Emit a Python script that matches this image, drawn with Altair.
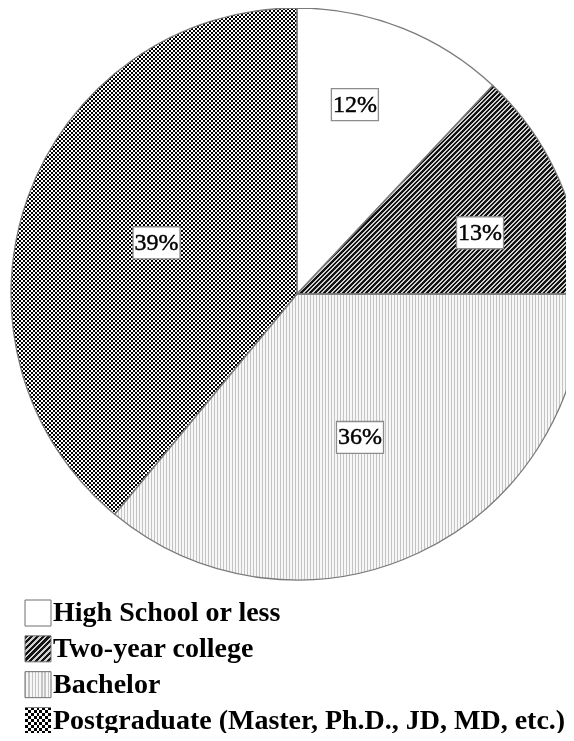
import math
import altair as alt
import pandas as pd

# ---------------- data ----------------
categories = [
    "High School or less",
    "Two-year college",
    "Bachelor",
    "Postgraduate (Master, Ph.D., JD, MD, etc.)",
]
shares = [12, 13, 36, 39]

# ---------------- layout / style ----------------
W_VIEW, H_VIEW = 558, 725
CX, CY, R = 289, 286, 286
SERIF = "Liberation Serif"
LABEL_R = [198, 193, 156.7, 149.5]   # label distance from centre (style)
LABEL_DA = [-4.6, 4.9, 1.5, 0.2]     # best-fit angular nudge in degrees (style)

df = pd.DataFrame({"category": categories, "value": shares, "idx": list(range(len(shares)))})
leg_df = pd.DataFrame({"category": categories, "idx": list(range(len(categories)))})


def wedge_bbox(f0, f1):
    a0, a1 = f0 / 100 * 360, f1 / 100 * 360
    angs = [a0, a1] + [k * 90 for k in range(5) if a0 < k * 90 < a1]
    xs = [CX] + [CX + R * math.sin(math.radians(a)) for a in angs]
    ys = [CY] + [CY - R * math.cos(math.radians(a)) for a in angs]
    return max(xs) - min(xs), max(ys) - min(ys)


def stripes(n, duty, c_on, c_off, x2, y2):
    stops = []
    k = 0
    while k / n < 1:
        o0 = k / n
        o1 = min((k + duty) / n, 1)
        o2 = min((k + 1) / n, 1)
        stops += [
            alt.GradientStop(offset=round(o0, 5), color=c_on),
            alt.GradientStop(offset=round(o1, 5), color=c_on),
            alt.GradientStop(offset=round(o1, 5), color=c_off),
            alt.GradientStop(offset=round(o2, 5), color=c_off),
        ]
        k += 1
    return alt.LinearGradient(gradient="linear", stops=stops, x1=0, y1=0, x2=x2, y2=y2)


def vertical(w, period, duty, c_on, c_off):
    return stripes(w / period, duty, c_on, c_off, 1, 0)


def horizontal(h, period, duty, c_on, c_off):
    return stripes(h / period, duty, c_on, c_off, 0, 1)


def diagonal(w, h, period, duty, c_on, c_off):
    s = (1 / h + 1 / w) / (1 / h ** 2 + 1 / w ** 2)
    length = (w + h) / math.sqrt(2)
    return stripes(length / period, duty, c_on, c_off, s / h, s / w)


cum = [sum(shares[:i]) for i in range(len(shares) + 1)]
boxes = [wedge_bbox(cum[i], cum[i + 1]) for i in range(len(shares))]

HATCH = ("#141414", "#d0d0d0")
DOTS = ("#c4c4c4", "#f7f7f7")

pie_fills = [
    "white",
    diagonal(boxes[1][0], boxes[1][1], 3.3, 0.58, *HATCH),
    vertical(boxes[2][0], 3.0, 0.4, *DOTS),
]
check_v = vertical(boxes[3][0], 4, 0.5, "white", "black")
check_h = horizontal(boxes[3][1], 4, 0.5, "white", "black")

base = alt.Chart(df).transform_window(
    cum="sum(value)", sort=[alt.SortField("idx")]
).transform_calculate(start="datum.cum - datum.value")

theta = alt.Theta("start:Q", scale=alt.Scale(domain=[0, 100], range=[0, 2 * math.pi]), stack=None)
theta2 = alt.Theta2("cum:Q")
pos = dict(theta=theta, theta2=theta2, x=alt.value(CX), y=alt.value(CY))

layers = []
for i, f in enumerate(pie_fills):
    layers.append(base.transform_filter(alt.datum.idx == i).mark_arc(radius=R, fill=f).encode(**pos))
layers.append(base.transform_filter(alt.datum.idx == 3).mark_arc(radius=R, fill=check_v).encode(**pos))
layers.append(
    base.transform_filter(alt.datum.idx == 3)
    .mark_arc(radius=R, fill=check_h, blend="difference")
    .encode(**pos)
)
layers.append(
    base.mark_arc(radius=R, fillOpacity=0, stroke="#7a7a7a", strokeWidth=1.3).encode(**pos)
)

# slice labels
lab = base.transform_calculate(
    mid="(datum.start + datum.cum) / 2 * PI / 50 + ["
    + ",".join(str(v) for v in LABEL_DA) + "][datum.idx] * PI / 180",
    lr="[" + ",".join(str(v) for v in LABEL_R) + "][datum.idx]",
    lx=f"{CX} + datum.lr * sin(datum.mid)",
    ly=f"{CY} - datum.lr * cos(datum.mid)",
    label="datum.value + '%'",
)
lpos = dict(x=alt.X("lx:Q", scale=None, axis=None), y=alt.Y("ly:Q", scale=None, axis=None))
BOX = "M-1,-0.68L1,-0.68L1,0.68L-1,0.68Z"
layers.append(
    lab.mark_point(shape=BOX, size=47 * 47, filled=True, fill="white", stroke="#8c8c8c",
                   strokeWidth=1.3, opacity=1).encode(**lpos)
)
layers.append(
    lab.mark_text(font=SERIF, fontSize=24, align="center", baseline="middle", color="black",
                  stroke="black", strokeWidth=0.45)
    .encode(text="label:N", **lpos)
)

# legend
ly = alt.Y("category:N", scale=alt.Scale(domain=categories, range=[605, 712.5], padding=0), axis=None)
SW = 26
leg_fills = [
    "white",
    diagonal(SW, SW, 36.8 / 9, 0.55, *HATCH),
    vertical(SW, SW / 8, 0.4, *DOTS),
]
leg = alt.Chart(leg_df)
for i, f in enumerate(leg_fills):
    layers.append(
        leg.transform_filter(alt.datum.idx == i)
        .mark_square(size=SW * SW, fill=f, stroke="#6f6f6f", strokeWidth=1, opacity=1)
        .encode(x=alt.value(30), y=ly)
    )
layers.append(
    leg.transform_filter(alt.datum.idx == 3)
    .mark_square(size=SW * SW, fill=vertical(SW, SW / 4.5, 0.5, "white", "black"), opacity=1)
    .encode(x=alt.value(30), y=ly)
)
layers.append(
    leg.transform_filter(alt.datum.idx == 3)
    .mark_square(size=SW * SW, fill=horizontal(SW, SW / 4.5, 0.5, "white", "black"),
                 blend="difference", opacity=1)
    .encode(x=alt.value(30), y=ly)
)
layers.append(
    leg.mark_text(font=SERIF, fontSize=28, fontWeight="bold", align="left", baseline="middle",
                  color="black")
    .encode(x=alt.value(45), y=ly, text="category:N")
)

chart = (
    alt.layer(*layers)
    .resolve_scale(x="independent", y="independent")
    .properties(width=W_VIEW, height=H_VIEW, padding=0, autosize=alt.AutoSizeParams(type="none"))
    .configure_view(strokeWidth=0)
)

chart.save("out.html", embed_options={"renderer": "svg", "actions": False})
